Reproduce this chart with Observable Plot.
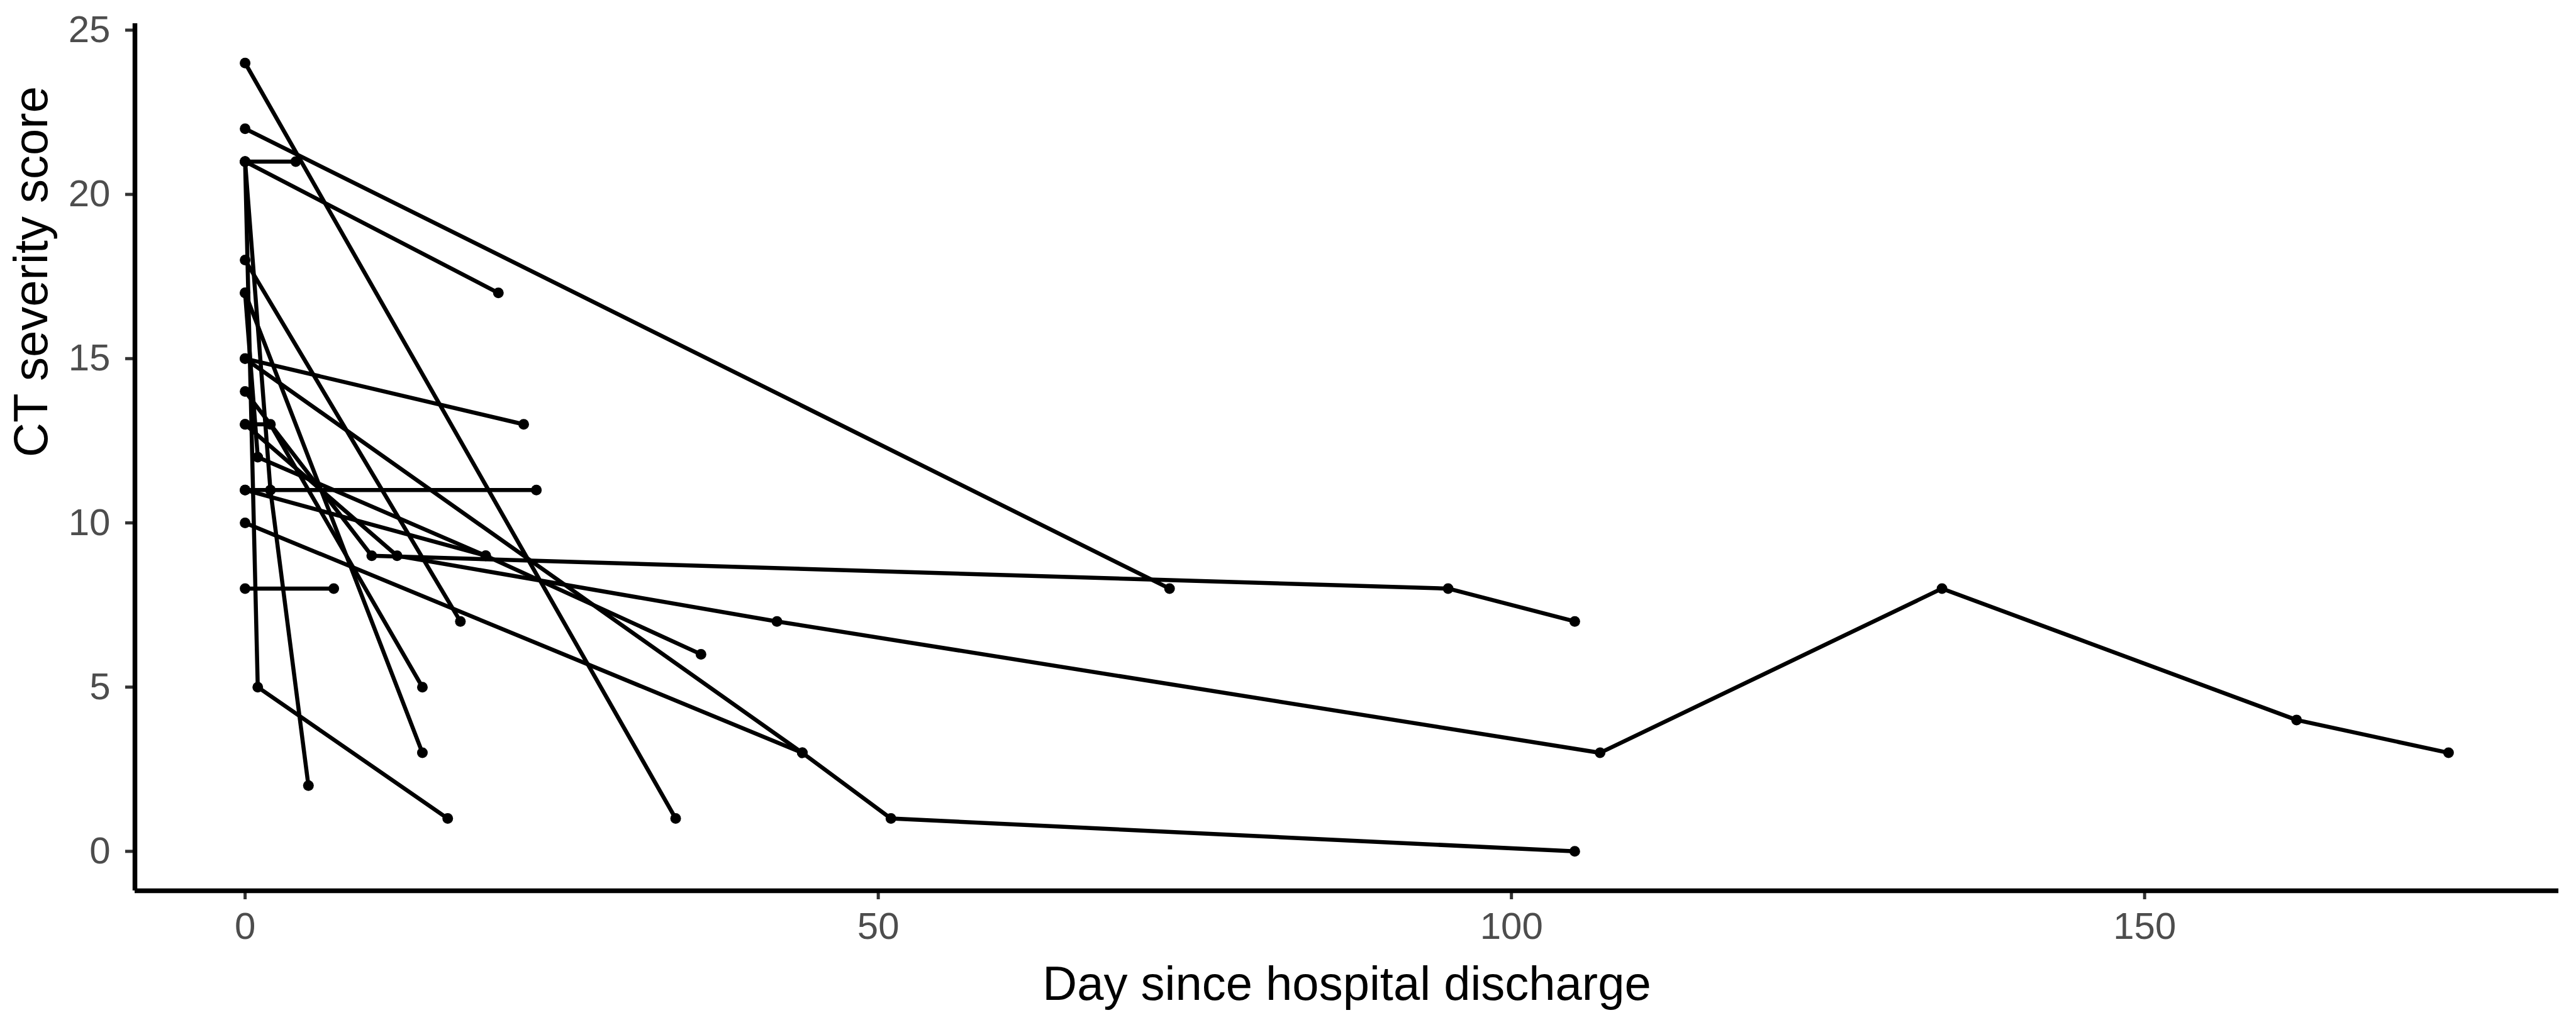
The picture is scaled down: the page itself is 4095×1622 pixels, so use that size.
<!DOCTYPE html>
<html>
<head>
<meta charset="utf-8">
<script src="https://cdn.jsdelivr.net/npm/d3@7"></script>
<script src="https://cdn.jsdelivr.net/npm/@observablehq/plot@0.6"></script>
<style>
  html, body { margin: 0; padding: 0; background: #ffffff; }
  #chart svg { display: block; }
</style>
</head>
<body>
<div id="chart"></div>
<script>
// ---- Data: one entry per patient (days since discharge, CT severity score) ----
const patientIds = ["P01","P02","P03","P04","P05","P06","P07","P08","P09","P10","P11","P12","P13","P14","P15","P16","P17","P18"];
const patientDays = [
  [0, 34],
  [0, 73],
  [0, 4],
  [0, 20],
  [0, 1, 16],
  [0, 2, 5],
  [0, 17],
  [0, 14],
  [0, 1, 19, 36],
  [0, 22],
  [0, 44, 51, 105],
  [0, 10, 95, 105],
  [0, 2, 14],
  [0, 12, 42, 107, 134, 162, 174],
  [0, 23],
  [0, 19],
  [0, 44],
  [0, 7]
];
const patientScores = [
  [24, 1],
  [22, 8],
  [21, 21],
  [21, 17],
  [21, 5, 1],
  [21, 11, 2],
  [18, 7],
  [17, 3],
  [17, 12, 9, 6],
  [15, 13],
  [15, 3, 1, 0],
  [14, 9, 8, 7],
  [13, 13, 5],
  [13, 9, 7, 3, 8, 4, 3],
  [11, 11],
  [11, 9],
  [10, 3],
  [8, 8]
];
const xTicks = [0, 50, 100, 150];
const yTicks = [0, 5, 10, 15, 20, 25];
const xDomain = [-8.7, 182.7];
const yDomain = [-1.2, 25.2];
const xTitle = "Day since hospital discharge";
const yTitle = "CT severity score";

// ---- Long table built from the arrays ----
const rows = [];
patientIds.forEach((id, i) => {
  patientDays[i].forEach((d, j) => rows.push({id, day: d, score: patientScores[i][j]}));
});

const chart = Plot.plot({
  width: 4095,
  height: 1622,
  marginLeft: 214,
  marginRight: 28,
  marginTop: 37,
  marginBottom: 206,
  style: {fontFamily: "'Liberation Sans', Arial, Helvetica, sans-serif", background: "#ffffff"},
  x: {domain: xDomain, ticks: xTicks},
  y: {domain: yDomain, ticks: yTicks},
  marks: [
    Plot.axisX({ticks: xTicks, tickSize: 14, tickPadding: 20, fontSize: 60, stroke: "#333333", strokeWidth: 5, fill: "#4D4D4D", label: null}),
    Plot.axisY({ticks: yTicks, tickSize: 15, tickPadding: 24, fontSize: 60, stroke: "#333333", strokeWidth: 5, fill: "#4D4D4D", label: null}),
    Plot.ruleX([xDomain[0]], {stroke: "black", strokeWidth: 7.5}),
    Plot.ruleY([yDomain[0]], {stroke: "black", strokeWidth: 7.5}),
    Plot.line(rows, {x: "day", y: "score", z: "id", stroke: "black", strokeWidth: 6.5, strokeLinejoin: "round"}),
    Plot.dot(rows, {x: "day", y: "score", r: 8.5, fill: "black", stroke: "none"}),
    Plot.text([xTitle], {frameAnchor: "bottom", dy: 120, lineAnchor: "top", fontSize: 76, fill: "black"}),
    Plot.text([yTitle], {frameAnchor: "left", rotate: -90, dx: -164, lineAnchor: "middle", fontSize: 76, fill: "black"})
  ]
});
document.getElementById("chart").appendChild(chart);
</script>
</body>
</html>
